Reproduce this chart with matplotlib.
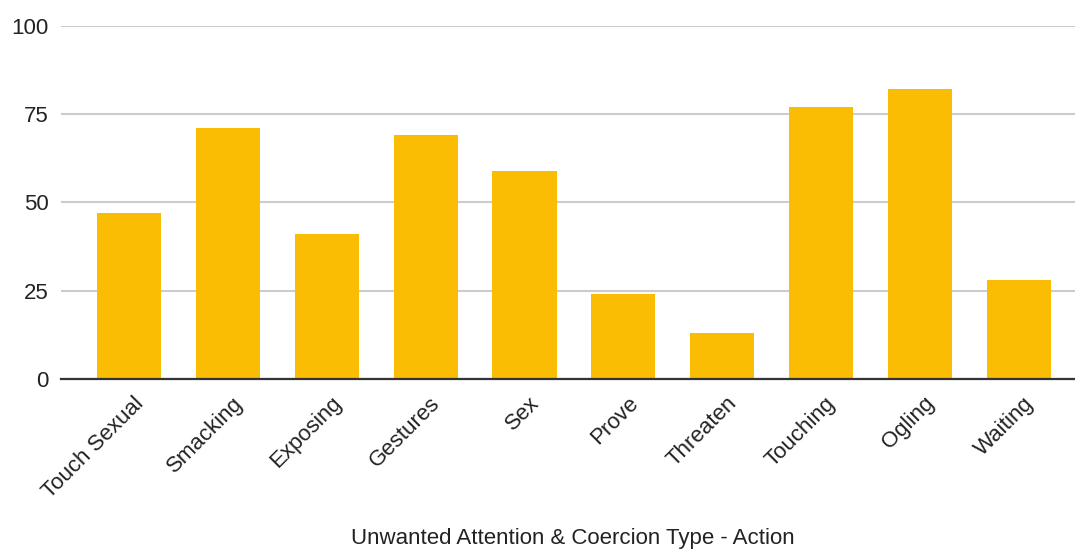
import numpy as np
import matplotlib
matplotlib.use("Agg")
import matplotlib.pyplot as plt
import matplotlib.transforms as mtrans

# attention / coercion action counts
actions = ["Touch Sexual", "Smacking", "Exposing", "Gestures", "Sex",
           "Prove", "Threaten", "Touching", "Ogling", "Waiting"]
counts = [47, 71, 41, 69, 59, 24, 13, 77, 82, 28]
y_ticks = [0, 25, 50, 75, 100]

BAR_COLOR = "#FBBC04"
TEXT_COLOR = "#222222"
FS = 16
plt.rcParams["font.family"] = ["Liberation Sans", "DejaVu Sans"]

fig = plt.figure(figsize=(10.75, 5.5), dpi=100)
ax = fig.add_axes([0.0567, 0.311, 0.9433, 0.6418])

x = np.arange(len(actions))
ax.bar(x, counts, width=0.65, color=BAR_COLOR, zorder=3)

ax.set_ylim(0, 100)
ax.set_xlim(-0.69, 9.57)
ax.set_yticks(y_ticks)
ax.set_yticklabels([str(v) for v in y_ticks], fontsize=FS, color=TEXT_COLOR)
ax.yaxis.grid(True, color="#cccccc", linewidth=1.5, zorder=0)
ax.tick_params(axis="y", length=0, pad=9)
ax.tick_params(axis="x", length=0, pad=10)

ax.set_xticks(x)
ax.set_xticklabels(actions, rotation=45, ha="right", va="top",
                   rotation_mode="anchor", fontsize=FS, color=TEXT_COLOR)
shift = mtrans.ScaledTranslation(4 / 100, 0, fig.dpi_scale_trans)
for lbl in ax.get_xticklabels():
    lbl.set_transform(lbl.get_transform() + shift)

for side in ["top", "right", "left"]:
    ax.spines[side].set_visible(False)
ax.spines["bottom"].set_color("#333333")
ax.spines["bottom"].set_linewidth(1.6)
ax.spines["bottom"].set_zorder(4)

fig.text(0.533, 0.0015, "Unwanted Attention & Coercion Type - Action",
         ha="center", va="bottom", fontsize=FS, color=TEXT_COLOR)

fig.savefig("out.png", dpi=100, facecolor="white")
